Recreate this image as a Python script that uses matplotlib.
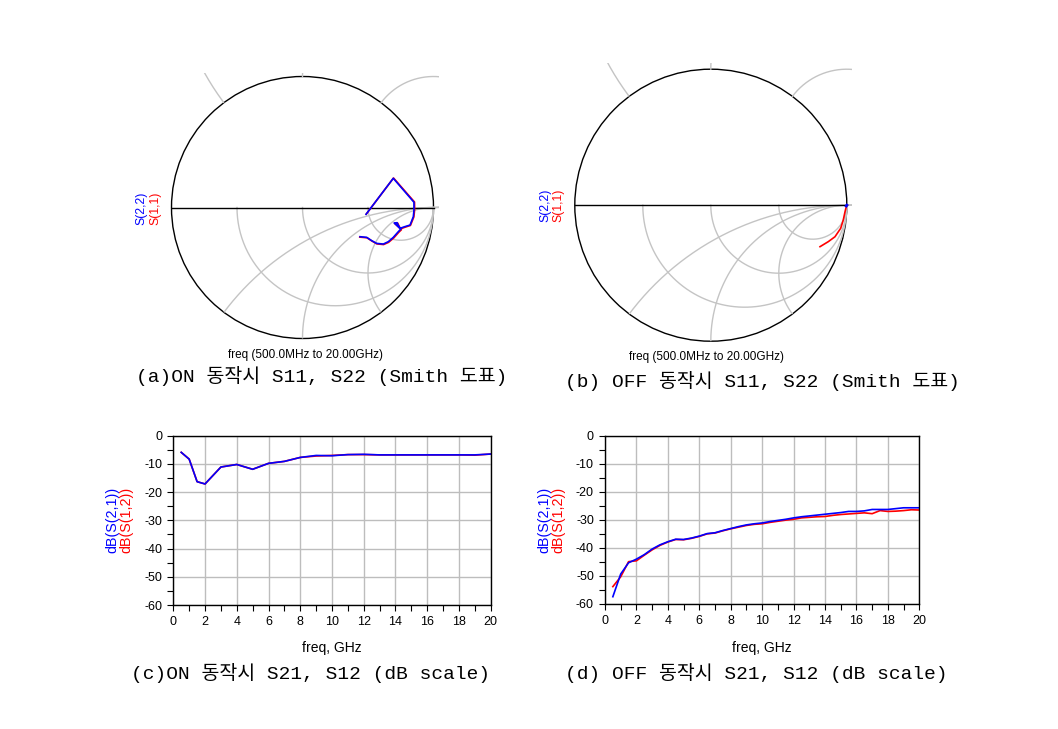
import numpy as np
import matplotlib
matplotlib.use("Agg")
import matplotlib.pyplot as plt
from matplotlib.patches import Circle

plt.rcParams['font.family'] = ['Liberation Sans', 'DejaVu Sans']
plt.rcParams['axes.unicode_minus'] = False

# ---------------- data ----------------
# (a) ON state, reflection coefficients (real, imag)
on_s22_re = [0.485, 0.693, 0.851, 0.851, 0.846, 0.821, 0.782, 0.744, 0.700, 0.722, 0.738, 0.750, 0.731, 0.693, 0.655, 0.617, 0.566, 0.528, 0.490, 0.439]
on_s22_im = [-0.052, 0.223, 0.040, -0.019, -0.070, -0.134, -0.146, -0.159, -0.118, -0.116, -0.150, -0.165, -0.185, -0.228, -0.261, -0.279, -0.274, -0.253, -0.228, -0.223]
on_s11_re = [0.487, 0.695, 0.855, 0.856, 0.850, 0.824, 0.784, 0.748, 0.703, 0.726, 0.744, 0.755, 0.735, 0.696, 0.657, 0.619, 0.568, 0.530, 0.492, 0.437]
on_s11_im = [-0.050, 0.225, 0.042, -0.017, -0.072, -0.137, -0.150, -0.163, -0.121, -0.119, -0.155, -0.170, -0.189, -0.233, -0.266, -0.283, -0.278, -0.256, -0.231, -0.226]

# (b) OFF state
off_s11_re = [0.999, 0.987, 0.974, 0.955, 0.913, 0.864, 0.803]
off_s11_im = [0.001, -0.048, -0.109, -0.170, -0.232, -0.268, -0.305]
off_s22_re = [1.000, 0.998, 0.996]
off_s22_im = [0.000, -0.003, -0.006]

# (c) ON state S21 / S12 (dB)
freq_on = [0.5, 1, 1.5, 2, 3, 4, 5, 6, 7, 8, 9, 10, 11, 12, 13, 14, 15, 16, 17, 18, 19, 20]
on_s21_db = [-5.9, -8.3, -16.3, -17.1, -11.1, -10.2, -11.9, -9.8, -9.1, -7.7, -7.0, -7.1, -6.7, -6.6, -6.8, -6.8, -6.8, -6.8, -6.8, -6.8, -6.8, -6.5]
on_s12_db = [-5.9, -8.3, -16.3, -17.1, -11.1, -10.2, -11.9, -9.8, -9.1, -7.7, -7.2, -7.0, -6.7, -6.7, -6.8, -6.8, -6.8, -6.8, -6.8, -6.8, -6.9, -6.5]

# (d) OFF state S21 / S12 (dB)
freq_off = [0.5, 1, 1.5, 2, 2.5, 3, 3.5, 4, 4.5, 5, 5.5, 6, 6.5, 7, 7.5, 8, 8.5, 9, 9.5, 10,
            10.5, 11, 11.5, 12, 12.5, 13, 13.5, 14, 14.5, 15, 15.5, 16, 16.5, 17, 17.5, 18, 18.5, 19, 19.5, 20]
off_s21_db = [-57.4, -49.3, -45.3, -44.0, -42.4, -40.4, -38.9, -37.8, -36.9, -37.0, -36.5, -35.8, -34.9, -34.6, -33.8, -33.1, -32.4, -31.8, -31.4, -31.1,
              -30.6, -30.2, -29.8, -29.3, -28.9, -28.6, -28.3, -28.0, -27.7, -27.4, -27.0, -27.0, -26.8, -26.3, -26.3, -26.3, -26.0, -25.7, -25.7, -25.7]
off_s12_db = [-53.8, -50.3, -44.9, -44.6, -42.6, -40.7, -39.1, -37.9, -37.0, -37.1, -36.6, -35.9, -35.0, -34.7, -33.9, -33.2, -32.6, -32.0, -31.6, -31.4,
              -30.9, -30.5, -30.1, -29.8, -29.3, -29.1, -28.9, -28.8, -28.4, -28.1, -27.9, -27.7, -27.5, -27.8, -26.7, -27.0, -26.9, -26.7, -26.4, -26.5]

r_grid = [1/3, 1, 3]
x_grid = [0.5, 1, 2]
xticks_db = [0, 2, 4, 6, 8, 10, 12, 14, 16, 18, 20]
yticks_db = [0, -10, -20, -30, -40, -50, -60]

captions = ["(a)ON 동작시 S11, S22 (Smith 도표)",
            "(b) OFF 동작시 S11, S22 (Smith 도표)",
            "(c)ON 동작시 S21, S12 (dB scale)",
            "(d) OFF 동작시 S21, S12 (dB scale)"]

# ---------------- figure ----------------
W, H = 1058, 729
fig = plt.figure(figsize=(W / 100, H / 100), dpi=100)

def px_axes(l, t, r, b):
    return fig.add_axes([l / W, 1 - b / H, (r - l) / W, (b - t) / H])

GRID = '#c4c4c4'
BLUE = '#0000ff'
RED = '#ff0000'

def smith(ax, ylim_top):
    ax.set_xlim(-1.04, 1.04)
    ax.set_ylim(-1.04, ylim_top)
    ax.axis('off')
    unit = Circle((0, 0), 1, transform=ax.transData)
    t = np.linspace(0, 2 * np.pi, 1441)
    th = np.linspace(np.pi, 2 * np.pi, 300)
    for r in r_grid:
        c = r / (1 + r)
        rad = 1 / (1 + r)
        ax.plot(c + rad * np.cos(th), rad * np.sin(th), color=GRID, lw=1)
    for x in x_grid:
        rad = 1 / x
        X = 1 + rad * np.cos(t)
        Yn = -rad + rad * np.sin(t)
        ln, = ax.plot(X, Yn, color=GRID, lw=1)
        ln.set_clip_path(unit)
        Yp = rad + rad * np.sin(t)
        m = X ** 2 + Yp ** 2 >= 1.0
        ax.plot(np.where(m, X, np.nan), np.where(m, Yp, np.nan), color=GRID, lw=1)
    ax.add_patch(Circle((0, 0), 1, fill=False, ec='black', lw=1))
    ax.plot([-1, 1], [0, 0], color='black', lw=1)

# (a)
axa = px_axes(302.5 - 1.04 * 131, 207.5 - 1.025 * 131, 302.5 + 1.04 * 131, 207.5 + 1.04 * 131)
smith(axa, 1.025)
axa.plot(on_s11_re, on_s11_im, color=RED, lw=1.2)
axa.plot(on_s22_re, on_s22_im, color=BLUE, lw=1.2)

# (b)
axb = px_axes(710.8 - 1.04 * 136, 205.2 - 1.043 * 136, 710.8 + 1.04 * 136, 205.2 + 1.04 * 136)
smith(axb, 1.043)
axb.plot(off_s11_re, off_s11_im, color=RED, lw=1.2)
axb.plot(off_s22_re, off_s22_im, color=BLUE, lw=2)

def ftext(x, y, s, **kw):
    fig.text(x / W, 1 - y / H, s, **kw)

ftext(141.7, 208, "S(2,2)", color=BLUE, rotation=90, ha='center', va='center', fontsize=8.8)
ftext(155, 208, "S(1,1)", color=RED, rotation=90, ha='center', va='center', fontsize=8.8)
ftext(545, 205, "S(2,2)", color=BLUE, rotation=90, ha='center', va='center', fontsize=8.8)
ftext(558, 205, "S(1,1)", color=RED, rotation=90, ha='center', va='center', fontsize=8.8)
ftext(305, 355, "freq (500.0MHz to 20.00GHz)", ha='center', va='center', fontsize=8.5)
ftext(706.7, 356.7, "freq (500.0MHz to 20.00GHz)", ha='center', va='center', fontsize=8.5)

def dbax(ax):
    ax.set_xlim(0, 20)
    ax.set_ylim(-60, 0)
    ax.set_xticks(xticks_db)
    ax.set_xticks([1, 3, 5, 7, 9, 11, 13, 15, 17, 19], minor=True)
    ax.set_yticks(yticks_db)
    ax.set_yticks([-5, -15, -25, -35, -45, -55], minor=True)
    ax.grid(True, which='major', color='#bdbdbd', lw=1)
    ax.set_axisbelow(True)
    ax.tick_params(which='both', direction='out', length=4.5, width=0.8, labelsize=9, pad=3.5, colors='black')
    for s in ax.spines.values():
        s.set_linewidth(1)
        s.set_color('black')
    ax.set_xlabel("freq, GHz", fontsize=10, va='center')

axc = px_axes(173.3, 435.7, 490.7, 605)
dbax(axc)
axc.plot(freq_on, on_s12_db, color=RED, lw=1.2)
axc.plot(freq_on, on_s21_db, color=BLUE, lw=1.2)
axc.xaxis.set_label_coords(0.5, (605 - 648) / (605 - 435.7))

axd = px_axes(605, 435.7, 919.3, 604)
dbax(axd)
axd.plot(freq_off, off_s12_db, color=RED, lw=1.2)
axd.plot(freq_off, off_s21_db, color=BLUE, lw=1.2)
axd.xaxis.set_label_coords(0.5, (604 - 648) / (604 - 435.7))

ftext(112, 520, "dB(S(2,1))", color=BLUE, rotation=90, ha='center', va='center', fontsize=10.3)
ftext(126, 520, "dB(S(1,2))", color=RED, rotation=90, ha='center', va='center', fontsize=10.3)
ftext(544, 520, "dB(S(2,1))", color=BLUE, rotation=90, ha='center', va='center', fontsize=10.3)
ftext(558, 520, "dB(S(1,2))", color=RED, rotation=90, ha='center', va='center', fontsize=10.3)

cap_fam = ['Liberation Mono', 'Noto Sans CJK KR']
ftext(136, 376, captions[0], ha='left', va='center', fontsize=14, family=cap_fam)
ftext(565, 381, captions[1], ha='left', va='center', fontsize=14, family=cap_fam)
ftext(131, 673, captions[2], ha='left', va='center', fontsize=14, family=cap_fam)
ftext(565, 673, captions[3], ha='left', va='center', fontsize=14, family=cap_fam)

fig.savefig("out.png", dpi=100)
